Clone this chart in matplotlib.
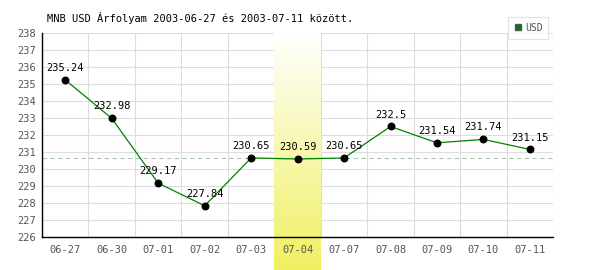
import numpy as np
import matplotlib.pyplot as plt
from matplotlib.lines import Line2D

# Data
dates = ['06-27', '06-30', '07-01', '07-02', '07-03', '07-04',
         '07-07', '07-08', '07-09', '07-10', '07-11']
usd = [235.24, 232.98, 229.17, 227.84, 230.65, 230.59,
       230.65, 232.5, 231.54, 231.74, 231.15]
avg_line = 230.65
highlight = '07-04'
title = 'MNB USD Árfolyam 2003-06-27 és 2003-07-11 között.'

mono = 'DejaVu Sans Mono'

fig = plt.figure(figsize=(6, 2.7), dpi=100)
ax = fig.add_axes([0.07, 0.122, 0.852, 0.756])

x = np.arange(len(dates))
ax.set_xlim(-0.5, len(dates) - 0.5)
ax.set_ylim(226, 238)

# grid
for yv in range(226, 239):
    ax.axhline(yv, color='#dddddd', lw=0.8, zorder=0)
for xv in np.arange(-0.5, len(dates), 1.0):
    ax.axvline(xv, color='#dddddd', lw=0.8, zorder=0)

# highlighted day, gradient from white to yellow, running below the axis
hi = dates.index(highlight)
grad = np.linspace(0, 1, 256).reshape(-1, 1)
top = np.array([1.0, 1.0, 1.0])
bot = np.array([0.94, 0.94, 0.38])
img = top + (bot - top) * grad[:, :, None] * np.ones((1, 1, 3))
band_bottom = 226 - 33 / 17.0
ax.imshow(img, extent=[hi - 0.5, hi + 0.5, band_bottom, 238], aspect='auto',
          origin='upper', zorder=0.5, clip_on=False)

# average line
ax.axhline(avg_line, color='#a8c8a8', lw=0.8, ls=(0, (4, 3)), zorder=1)

ax.plot(x, usd, color='#008000', lw=0.9, zorder=2)
ax.scatter(x, usd, s=22, color='black', zorder=3)
for xi, v in zip(x, usd):
    ax.annotate(f'{v:g}', (xi, v), xytext=(0, 5), textcoords='offset points',
                ha='center', va='bottom', fontsize=7.5, family=mono, zorder=4)

ax.set_xticks(x)
ax.set_xticklabels(dates)
ax.set_yticks(range(226, 239))
ax.tick_params(axis='both', length=0, labelsize=7.5, labelcolor='#555555')
ax.tick_params(axis='x', pad=6)
ax.tick_params(axis='y', pad=4)
for lab in ax.get_xticklabels() + ax.get_yticklabels():
    lab.set_family(mono)

for s in ['top', 'right']:
    ax.spines[s].set_visible(False)
ax.spines['left'].set_linewidth(1.0)
ax.spines['bottom'].set_linewidth(1.0)
ax.set_axisbelow(True)

fig.text(0.078, 0.935, title, fontsize=7.5, family=mono, va='center')

handle = Line2D([], [], marker='s', color='#008000', markeredgecolor='#555555',
                markersize=5, lw=0)
leg = fig.legend([handle], ['USD'], loc='upper right', bbox_to_anchor=(0.922, 0.955),
                 frameon=True, fancybox=False, handlelength=0.8,
                 handletextpad=0.3, borderpad=0.6, prop={'family': mono, 'size': 7})
leg.get_frame().set_edgecolor('#dddddd')
leg.get_frame().set_linewidth(0.8)
for t in leg.get_texts():
    t.set_color('#555555')

fig.savefig('out.png', dpi=100)
